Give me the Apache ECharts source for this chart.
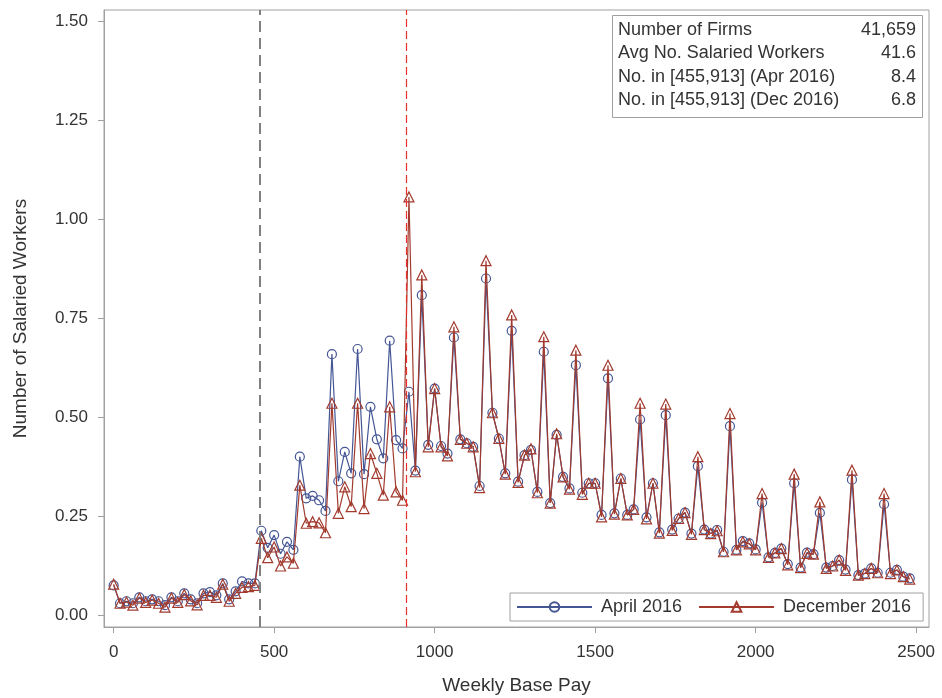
<!DOCTYPE html>
<html><head><meta charset="utf-8">
<script src="https://cdn.jsdelivr.net/npm/echarts@6/dist/echarts.min.js"></script>
<style>html,body{margin:0;padding:0;background:#fff}#c{width:942px;height:698px}</style>
</head><body><div id="c"></div>
<script>
// ---- data ----
const weeklyPay = [0,20,40,60,80,100,120,140,160,180,200,220,240,260,280,300,320,340,360,380,400,420,440,460,480,500,520,540,560,580,600,620,640,660,680,700,720,740,760,780,800,820,840,860,880,900,920,940,960,980,1000,1020,1040,1060,1080,1100,1120,1140,1160,1180,1200,1220,1240,1260,1280,1300,1320,1340,1360,1380,1400,1420,1440,1460,1480,1500,1520,1540,1560,1580,1600,1620,1640,1660,1680,1700,1720,1740,1760,1780,1800,1820,1840,1860,1880,1900,1920,1940,1960,1980,2000,2020,2040,2060,2080,2100,2120,2140,2160,2180,2200,2220,2240,2260,2280,2300,2320,2340,2360,2380,2400,2420,2440,2460,2480];
const april2016 = [0.075,0.030,0.035,0.030,0.045,0.035,0.040,0.035,0.025,0.045,0.035,0.055,0.040,0.030,0.055,0.058,0.050,0.080,0.040,0.060,0.085,0.080,0.080,0.213,0.170,0.202,0.155,0.185,0.165,0.400,0.295,0.301,0.290,0.263,0.659,0.338,0.412,0.358,0.672,0.356,0.526,0.444,0.396,0.693,0.442,0.421,0.564,0.365,0.808,0.430,0.572,0.427,0.408,0.701,0.444,0.434,0.425,0.326,0.850,0.511,0.446,0.358,0.718,0.337,0.404,0.417,0.311,0.665,0.283,0.455,0.349,0.320,0.631,0.309,0.333,0.333,0.253,0.598,0.257,0.345,0.253,0.267,0.494,0.247,0.333,0.209,0.505,0.216,0.244,0.259,0.206,0.376,0.216,0.206,0.215,0.160,0.477,0.165,0.187,0.181,0.166,0.284,0.146,0.157,0.168,0.129,0.333,0.120,0.158,0.154,0.258,0.120,0.124,0.139,0.115,0.342,0.101,0.105,0.118,0.107,0.280,0.107,0.114,0.097,0.093];
const december2016 = [0.078,0.030,0.033,0.025,0.043,0.032,0.038,0.030,0.020,0.043,0.032,0.052,0.036,0.026,0.050,0.050,0.045,0.078,0.035,0.055,0.070,0.072,0.075,0.194,0.145,0.172,0.124,0.147,0.131,0.328,0.232,0.236,0.233,0.208,0.535,0.257,0.324,0.274,0.535,0.269,0.408,0.358,0.303,0.526,0.311,0.290,1.056,0.362,0.859,0.425,0.572,0.425,0.402,0.728,0.444,0.434,0.425,0.322,0.895,0.511,0.446,0.356,0.758,0.335,0.404,0.420,0.309,0.703,0.283,0.458,0.349,0.318,0.669,0.305,0.333,0.333,0.248,0.631,0.255,0.345,0.253,0.267,0.535,0.243,0.333,0.207,0.533,0.214,0.244,0.259,0.204,0.400,0.216,0.206,0.213,0.160,0.509,0.165,0.185,0.180,0.165,0.307,0.146,0.157,0.168,0.127,0.356,0.120,0.156,0.154,0.286,0.118,0.124,0.139,0.113,0.366,0.101,0.105,0.118,0.107,0.307,0.105,0.114,0.097,0.091];
const seriesNames = ['April 2016', 'December 2016'];
const xTicks = [0, 500, 1000, 1500, 2000, 2500];
const yTicks = [0, 0.25, 0.5, 0.75, 1.0, 1.25, 1.5];
const refLines = [455, 913];
const statLabels = ['Number of Firms', 'Avg No. Salaried Workers', 'No. in [455,913] (Apr 2016)', 'No. in [455,913] (Dec 2016)'];
const statValues = ['41,659', '41.6', '8.4', '6.8'];

// ---- chart ----
const FONT = '"Liberation Sans", Arial, sans-serif';
const AXIS_GRAY = '#a0a0a0';
const TXT = '#333333';
const BLUE = '#445694';
const RED = '#A23A2E';

const chart = echarts.init(document.getElementById('c'), null, {renderer: 'canvas'});

const pairs = (ys) => weeklyPay.map((x, i) => [x, ys[i]]);

const statGraphics = [{
  type: 'rect', z: 100,
  shape: {x: 612.5, y: 15.5, width: 310, height: 102},
  style: {fill: '#ffffff', stroke: AXIS_GRAY, lineWidth: 1}
}];
const rowY = [30, 53.5, 77, 100.5];
statLabels.forEach((t, i) => {
  statGraphics.push({type: 'text', z: 101, x: 618, y: rowY[i],
    style: {text: t, fill: TXT, font: '18px ' + FONT, textAlign: 'left', textVerticalAlign: 'middle'}});
  statGraphics.push({type: 'text', z: 101, x: 916, y: rowY[i],
    style: {text: statValues[i], fill: TXT, font: '18px ' + FONT, textAlign: 'right', textVerticalAlign: 'middle'}});
});

chart.setOption({
  animation: false,
  backgroundColor: '#ffffff',
  textStyle: {fontFamily: FONT},
  grid: {left: 104, top: 10, right: 13, bottom: 71, show: true, borderColor: AXIS_GRAY, borderWidth: 1,
    containLabel: false, outerBoundsMode: 'none'},
  xAxis: {
    type: 'value', min: -30, max: 2540,
    name: 'Weekly Base Pay', nameLocation: 'middle', nameGap: 49,
    nameTextStyle: {fontSize: 19, color: TXT, fontFamily: FONT},
    axisLine: {show: true, onZero: false, lineStyle: {color: AXIS_GRAY, width: 1}},
    axisTick: {show: true, customValues: xTicks, length: 6, lineStyle: {color: AXIS_GRAY}},
    axisLabel: {customValues: xTicks, fontSize: 17, color: TXT, margin: 17, fontFamily: FONT,
      formatter: (v) => String(v)},
    splitLine: {show: false}
  },
  yAxis: {
    type: 'value', min: -0.03, max: 1.528,
    name: 'Number of Salaried Workers', nameLocation: 'middle', nameGap: 74,
    nameTextStyle: {fontSize: 19, color: TXT, fontFamily: FONT},
    axisLine: {show: true, onZero: false, lineStyle: {color: AXIS_GRAY, width: 1}},
    axisTick: {show: true, customValues: yTicks, length: 6, lineStyle: {color: AXIS_GRAY}},
    axisLabel: {customValues: yTicks, fontSize: 17, color: TXT, margin: 16, fontFamily: FONT,
      formatter: (v) => v.toFixed(2)},
    splitLine: {show: false}
  },
  legend: {
    left: 510, top: 593, orient: 'horizontal',
    padding: [5, 12, 5, 6], itemGap: 16, itemWidth: 75, itemHeight: 12,
    borderColor: AXIS_GRAY, borderWidth: 1, backgroundColor: '#ffffff',
    textStyle: {fontSize: 18, color: TXT, fontFamily: FONT, padding: [0, 0, 0, 4]},
    data: seriesNames
  },
  graphic: statGraphics,
  series: [
    {
      name: seriesNames[0], type: 'line', data: pairs(april2016), z: 3,
      symbol: 'circle', symbolSize: 9,
      itemStyle: {color: 'rgba(255,255,255,0)', borderColor: BLUE, borderWidth: 1.2},
      lineStyle: {color: BLUE, width: 1.2},
      markLine: {
        silent: true, symbol: ['none', 'none'], label: {show: false}, animation: false,
        data: [
          {xAxis: refLines[0], lineStyle: {color: '#808080', width: 2, type: [11, 6]}},
          {xAxis: refLines[1], lineStyle: {color: '#e8302c', width: 1.2, type: [8, 4]}}
        ]
      }
    },
    {
      name: seriesNames[1], type: 'line', data: pairs(december2016), z: 4,
      symbol: 'triangle', symbolSize: 10,
      itemStyle: {color: 'rgba(255,255,255,0)', borderColor: RED, borderWidth: 1.2},
      lineStyle: {color: RED, width: 1.2}
    }
  ]
});
</script>
</body></html>
